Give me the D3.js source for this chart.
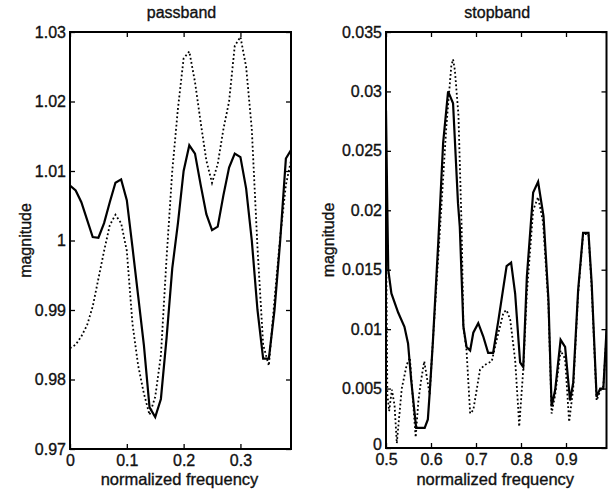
<!DOCTYPE html>
<html>
<head>
<meta charset="utf-8">
<script src="https://cdn.jsdelivr.net/npm/d3@7"></script>
<style>
  body { margin: 0; background: #fff; }
  svg text { font-family: "Liberation Sans", Arial, Helvetica, sans-serif; fill: #111; }
</style>
</head>
<body>
<svg id="chart"></svg>
<script>
const width = 616;
const height = 495;

// passband data (normalized frequency 0..0.389)
const passFreq = [0, 0.01, 0.02, 0.03, 0.04, 0.05, 0.06, 0.07, 0.08, 0.09,
  0.10, 0.11, 0.12, 0.13, 0.14, 0.15, 0.16, 0.17, 0.18, 0.19,
  0.20, 0.21, 0.22, 0.23, 0.24, 0.25, 0.26, 0.27, 0.28, 0.29,
  0.30, 0.31, 0.32, 0.33, 0.34, 0.35, 0.36, 0.37, 0.38, 0.389];
const passSolid = [1.0079, 1.0072, 1.0055, 1.0030, 1.0005, 1.0004, 1.0025, 1.0055, 1.0083, 1.0088,
  1.0058, 0.9990, 0.9920, 0.9850, 0.9760, 0.9746, 0.9772, 0.9860, 0.9960, 1.0025,
  1.0100, 1.0137, 1.0125, 1.0080, 1.0038, 1.0015, 1.0020, 1.0065, 1.0105, 1.0125,
  1.0120, 1.0075, 1.0000, 0.9900, 0.9830, 0.9830, 0.9900, 1.0000, 1.0118, 1.0130];
const passDotted = [0.9845, 0.9850, 0.9862, 0.9878, 0.9905, 0.9945, 0.9985, 1.0022, 1.0037, 1.0025,
  0.9985, 0.9880, 0.9820, 0.9780, 0.9749, 0.9775, 0.9835, 0.9975, 1.0100, 1.0190,
  1.0262, 1.0272, 1.0228, 1.0170, 1.0115, 1.0083, 1.0110, 1.0160, 1.0200, 1.0280,
  1.0293, 1.0250, 1.0160, 0.9990, 0.9850, 0.9820, 0.9915, 1.0005, 1.0080, 1.0115];

// stopband data (normalized frequency 0.5..0.99)
const stopSolidFreq = [0.500, 0.503, 0.505, 0.512, 0.527, 0.541, 0.549, 0.556, 0.567, 0.586,
  0.593, 0.597, 0.604, 0.616, 0.627, 0.638, 0.649, 0.660, 0.664, 0.672,
  0.679, 0.687, 0.694, 0.705, 0.716, 0.727, 0.738, 0.750, 0.768, 0.778,
  0.787, 0.798, 0.805, 0.813, 0.827, 0.838, 0.850, 0.861, 0.868, 0.876,
  0.888, 0.898, 0.909, 0.916, 0.927, 0.938, 0.950, 0.957, 0.968, 0.976,
  0.983, 0.990];
const stopSolid = [0.0284, 0.0200, 0.0150, 0.0130, 0.0114, 0.0102, 0.0088, 0.0057, 0.0017, 0.0017,
  0.0024, 0.0046, 0.0088, 0.0172, 0.0257, 0.0300, 0.0290, 0.0206, 0.0186, 0.0102,
  0.0085, 0.0082, 0.0097, 0.0105, 0.0094, 0.0080, 0.0080, 0.0108, 0.0153, 0.0156,
  0.0130, 0.0072, 0.0068, 0.0144, 0.0215, 0.0224, 0.0195, 0.0125, 0.0035, 0.0049,
  0.0091, 0.0085, 0.0040, 0.0055, 0.0133, 0.0181, 0.0181, 0.0139, 0.0043, 0.0050,
  0.0050, 0.0099];
const stopDottedFreq = [0.500, 0.503, 0.507, 0.513, 0.519, 0.524, 0.535, 0.546, 0.553, 0.563,
  0.566, 0.572, 0.578, 0.585, 0.597, 0.604, 0.616, 0.634, 0.645, 0.649,
  0.653, 0.661, 0.668, 0.672, 0.679, 0.687, 0.694, 0.709, 0.720, 0.735,
  0.746, 0.761, 0.768, 0.776, 0.787, 0.794, 0.796, 0.805, 0.813, 0.827,
  0.838, 0.849, 0.861, 0.868, 0.876, 0.888, 0.898, 0.907, 0.916, 0.927,
  0.938, 0.950, 0.957, 0.968, 0.976, 0.983, 0.990];
const stopDotted = [0.0190, 0.0045, 0.0031, 0.0049, 0.0036, 0.0004, 0.0050, 0.0070, 0.0076, 0.0024,
  0.0009, 0.0040, 0.0057, 0.0073, 0.0045, 0.0089, 0.0160, 0.0270, 0.0321, 0.0327,
  0.0318, 0.0280, 0.0186, 0.0102, 0.0082, 0.0029, 0.0032, 0.0066, 0.0070, 0.0073,
  0.0091, 0.0114, 0.0116, 0.0108, 0.0074, 0.0032, 0.0018, 0.0066, 0.0130, 0.0200,
  0.0211, 0.0190, 0.0120, 0.0029, 0.0045, 0.0082, 0.0075, 0.0022, 0.0050, 0.0130,
  0.0180, 0.0180, 0.0135, 0.0040, 0.0048, 0.0052, 0.0095];

// ticks
const passXTicks = [0, 0.1, 0.2, 0.3];
const passXLabels = ['0', '0.1', '0.2', '0.3'];
const passYTicks = [0.97, 0.98, 0.99, 1.00, 1.01, 1.02, 1.03];
const passYLabels = ['0.97', '0.98', '0.99', '1', '1.01', '1.02', '1.03'];
const stopXTicks = [0.5, 0.6, 0.7, 0.8, 0.9];
const stopXLabels = ['0.5', '0.6', '0.7', '0.8', '0.9'];
const stopYTicks = [0, 0.005, 0.01, 0.015, 0.02, 0.025, 0.03, 0.035];
const stopYLabels = ['0', '0.005', '0.01', '0.015', '0.02', '0.025', '0.03', '0.035'];

const svg = d3.select('#chart')
  .attr('width', width)
  .attr('height', height);

svg.append('rect').attr('width', width).attr('height', height).attr('fill', '#fff');

function drawPanel(opt) {
  const { left, right, top, bottom } = opt;
  const g = svg.append('g');

  const x = d3.scaleLinear().domain(opt.xDomain).range([left, right]);
  const y = d3.scaleLinear().domain(opt.yDomain).range([bottom, top]);

  const clipId = 'clip-' + opt.name;
  svg.append('clipPath').attr('id', clipId)
    .append('rect').attr('x', left).attr('y', top)
    .attr('width', right - left).attr('height', bottom - top);

  // axes with inward ticks
  const fmtX = d => opt.xLabels[opt.xTicks.indexOf(d)];
  const fmtY = d => opt.yLabels[opt.yTicks.indexOf(d)];

  const axB = g.append('g').attr('transform', `translate(0,${bottom})`)
    .call(d3.axisBottom(x).tickValues(opt.xTicks).tickFormat(fmtX).tickSize(-5).tickPadding(8));
  const axT = g.append('g').attr('transform', `translate(0,${top})`)
    .call(d3.axisTop(x).tickValues(opt.xTicks).tickFormat('').tickSize(-5));
  const axL = g.append('g').attr('transform', `translate(${left},0)`)
    .call(d3.axisLeft(y).tickValues(opt.yTicks).tickFormat(fmtY).tickSize(-5).tickPadding(8));
  const axR = g.append('g').attr('transform', `translate(${right},0)`)
    .call(d3.axisRight(y).tickValues(opt.yTicks).tickFormat('').tickSize(-5));

  [axB, axT, axL, axR].forEach(a => {
    a.select('.domain').remove();
    a.selectAll('line').attr('stroke', '#000').attr('stroke-width', 1.3);
    a.selectAll('text')
      .style('font-size', '16px')
      .attr('fill', '#111')
      .attr('stroke', '#111').attr('stroke-width', 0.35);
  });
  axL.selectAll('text').attr('x', -4);
  axB.selectAll('text').attr('dy', '0.71em').attr('y', 6);
  // lowest y label sits a little higher so it clears the first x label
  if (opt.liftBottomLabel) {
    axL.selectAll('text').filter(d => d === opt.yTicks[0]).attr('dy', '0.1em');
  }

  // curves
  const line = d3.line().x(d => x(d[0])).y(d => y(d[1]));
  const solidPts = opt.solidX.map((f, i) => [f, opt.solidY[i]]);
  const dottedPts = opt.dottedX.map((f, i) => [f, opt.dottedY[i]]);

  g.append('path')
    .datum(dottedPts)
    .attr('clip-path', `url(#${clipId})`)
    .attr('fill', 'none')
    .attr('stroke', '#000')
    .attr('stroke-width', 1.8)
    .attr('stroke-dasharray', '1.8,2.4')
    .attr('d', line);

  g.append('path')
    .datum(solidPts)
    .attr('clip-path', `url(#${clipId})`)
    .attr('fill', 'none')
    .attr('stroke', '#000')
    .attr('stroke-width', 2.2)
    .attr('stroke-linejoin', 'miter')
    .attr('d', line);

  // frame
  g.append('rect')
    .attr('x', left).attr('y', top)
    .attr('width', right - left).attr('height', bottom - top)
    .attr('fill', 'none').attr('stroke', '#000').attr('stroke-width', 2);

  // title and labels
  g.append('text')
    .attr('x', (left + right) / 2 + 1).attr('y', 18)
    .attr('text-anchor', 'middle')
    .style('font-size', '16px')
    .attr('stroke', '#111').attr('stroke-width', 0.35)
    .text(opt.title);

  g.append('text')
    .attr('x', (left + right) / 2 - 1).attr('y', 485)
    .attr('text-anchor', 'middle')
    .style('font-size', '16.5px')
    .attr('stroke', '#111').attr('stroke-width', 0.35)
    .text('normalized frequency');

  g.append('text')
    .attr('transform', `translate(${opt.yLabelX},${(top + bottom) / 2}) rotate(-90)`)
    .attr('text-anchor', 'middle')
    .style('font-size', '16px')
    .attr('stroke', '#111').attr('stroke-width', 0.35)
    .text('magnitude');
}

drawPanel({
  name: 'pass', title: 'passband',
  left: 70, right: 291, top: 32, bottom: 449,
  xDomain: [0, 0.389], yDomain: [0.97, 1.03],
  xTicks: passXTicks, xLabels: passXLabels,
  yTicks: passYTicks, yLabels: passYLabels,
  solidX: passFreq, solidY: passSolid,
  dottedX: passFreq, dottedY: passDotted,
  yLabelX: 31, liftBottomLabel: false
});

drawPanel({
  name: 'stop', title: 'stopband',
  left: 386, right: 606.5, top: 32, bottom: 448,
  xDomain: [0.5, 0.99], yDomain: [0, 0.035],
  xTicks: stopXTicks, xLabels: stopXLabels,
  yTicks: stopYTicks, yLabels: stopYLabels,
  solidX: stopSolidFreq, solidY: stopSolid,
  dottedX: stopDottedFreq, dottedY: stopDotted,
  yLabelX: 334, liftBottomLabel: true
});
</script>
</body>
</html>
